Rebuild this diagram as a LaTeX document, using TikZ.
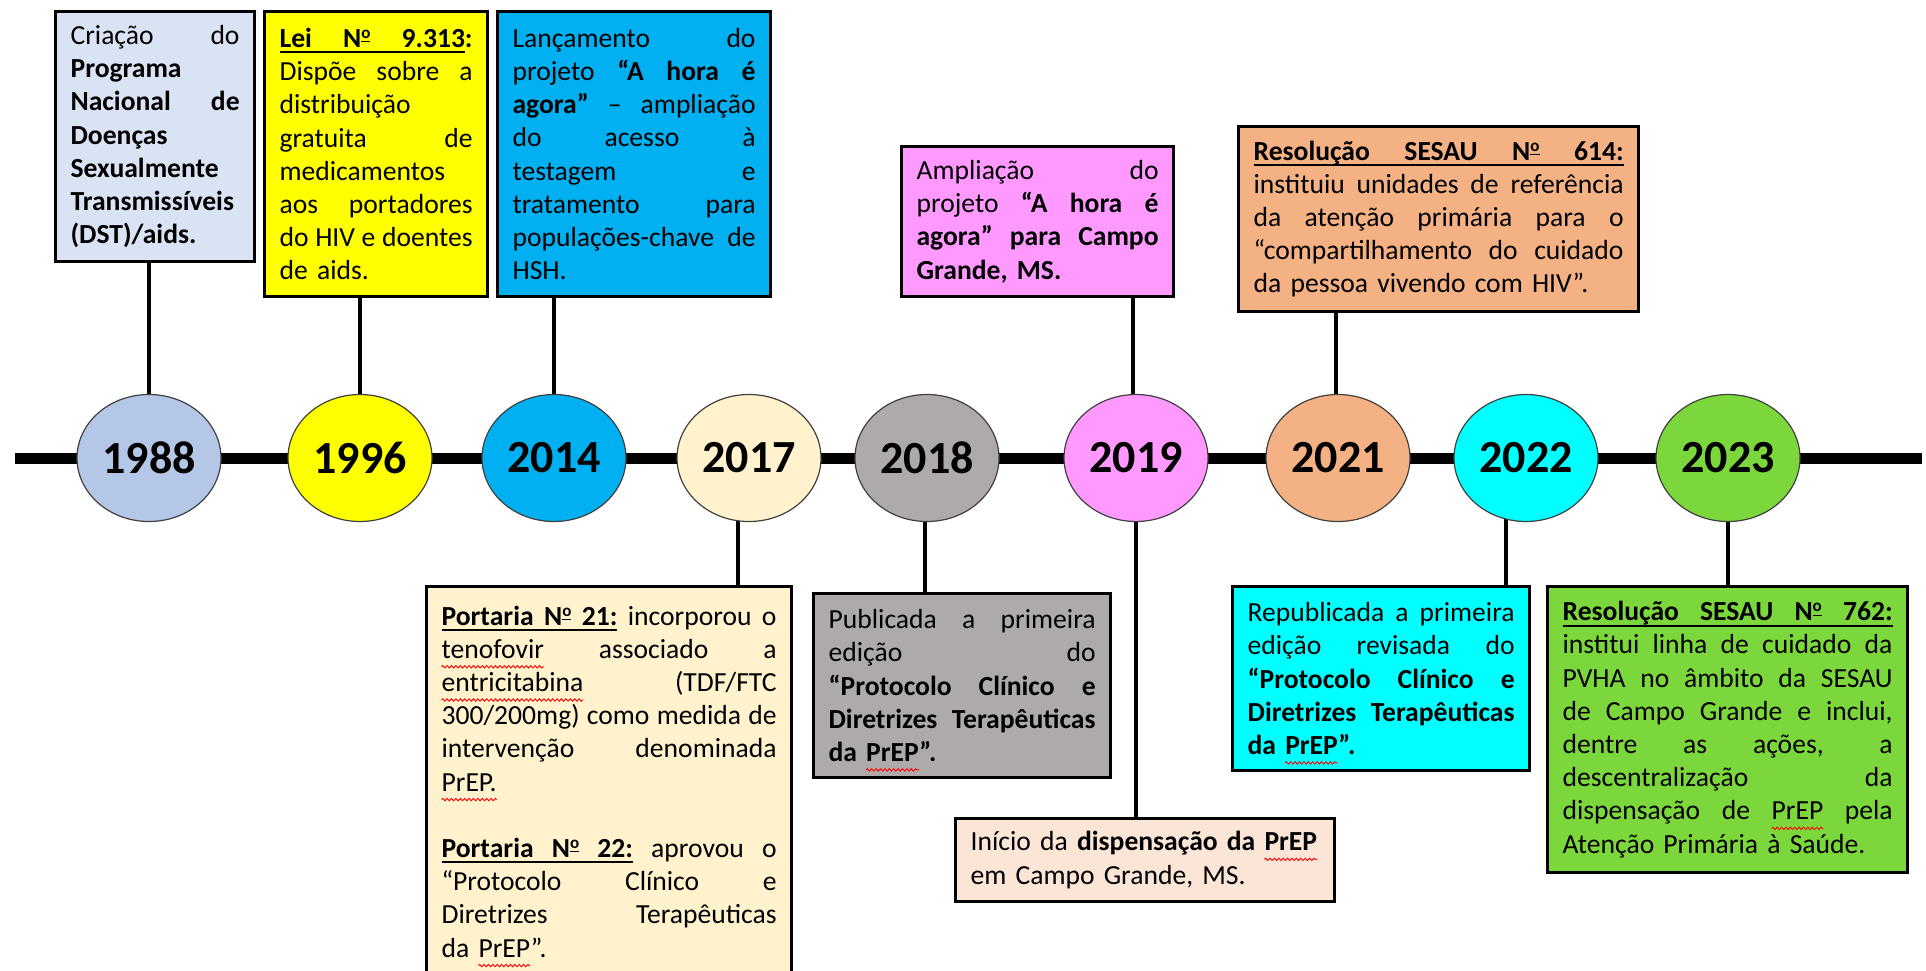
\documentclass[tikz,border=0pt]{standalone}
\usepackage{fontspec}
\setmainfont{Carlito}
\usetikzlibrary{shapes.geometric,backgrounds,decorations.pathmorphing}
\definecolor{cAe}{HTML}{B4C7E7}
\definecolor{cAb}{HTML}{DAE3F3}
\definecolor{cYel}{HTML}{FFFF00}
\definecolor{cBlu}{HTML}{00B0F0}
\definecolor{cCre}{HTML}{FFF2CC}
\definecolor{cGra}{HTML}{AEAAAA}
\definecolor{cPnk}{HTML}{FF99FF}
\definecolor{cPea}{HTML}{FBE5D6}
\definecolor{cOra}{HTML}{F4B183}
\definecolor{cCya}{HTML}{00FFFF}
\definecolor{cGrn}{HTML}{7CD73C}
\newsavebox\uwbox
\newlength\sqw
% justified line: every interword space stretches equally
\newcommand\jline[1]{\hbox to \linewidth{\spaceskip=0.23em plus 1fil\relax\xspaceskip=0.23em plus 1fil\relax #1}\par}
\newcommand\lline[1]{\makebox[\linewidth][l]{#1}\par}
% underlined word
\newcommand\uw[1]{\sbox\uwbox{#1}\rlap{\raisebox{-2.9pt}{\rule{\wd\uwbox}{1pt}}}\usebox\uwbox}
% underlined stretchable space and plain stretchable space
\newcommand\usp{\leaders\vrule height -1.9pt depth 2.9pt\hskip 0.23em plus 1fil\relax}
\newcommand\nsp{\hskip 0.23em plus 1fil\relax}
% numero sign: raised small o with bar
\newcommand\ordm{\raisebox{4.4pt}{\fontsize{8.5}{8.5}\selectfont\underline{o}}}
% red spell-check squiggle
\newcommand\sq[1]{\settowidth\sqw{#1}\rlap{\tikz[overlay,x=1pt,y=1pt,baseline=0pt]\draw[red,line width=0.45pt,decorate,decoration={zigzag,segment length=2.2pt,amplitude=0.6pt}] (0,-4.2) -- (\sqw,-4.2);}#1}
\begin{document}
\begin{tikzpicture}[x=0.5pt,y=-0.5pt,
  yr/.style={ellipse, draw=black!75, line width=0.6pt, minimum width=72pt, minimum height=63.5pt, inner sep=0pt, font=\fontsize{23}{26}\selectfont\bfseries},
  ev/.style={draw=black, line width=1.6pt, anchor=north west, inner xsep=7.5pt, inner ysep=0pt, font=\fontsize{13.8}{16.6}\selectfont},
  conn/.style={line width=2.2pt},
  tline/.style={line width=5.5pt}]
\useasboundingbox (0,0) rectangle (1926,970);
\coordinate (tl) at (15,458);
\coordinate (tr) at (1922,458);

% years
\node[yr, fill=cAe] (e1988) at (149,458) {1988};
\node[yr, fill=cYel] (e1996) at (360,458) {1996};
\node[yr, fill=cBlu] (e2014) at (554,458) {2014};
\node[yr, fill=cCre] (e2017) at (749,458) {2017};
\node[yr, fill=cGra] (e2018) at (927,458) {2018};
\node[yr, fill=cPnk] (e2019) at (1136,458) {2019};
\node[yr, fill=cOra] (e2021) at (1338,458) {2021};
\node[yr, fill=cCya] (e2022) at (1526,458) {2022};
\node[yr, fill=cGrn] (e2023) at (1728,458) {2023};

% top boxes
\node[ev, fill=cAb, text width=84.5pt, minimum height=125pt] (b1988) at (54,10) {%
\jline{Criação do}
\lline{\textbf{Programa}}
\jline{\textbf{Nacional de}}
\lline{\textbf{Doenças}}
\lline{\textbf{Sexualmente}}
\lline{\textbf{Transmissíveis}}
\lline{\textbf{(DST)/aids.}}};

\node[ev, fill=cYel, text width=96.5pt, minimum height=142.5pt] (b1996) at (263,10) {%
\jline{\textbf{\uw{Lei}\usp\uw{N\ordm}\usp\uw{9.313}:}}
\jline{Dispõe sobre a}
\lline{distribuição}
\jline{gratuita de}
\lline{medicamentos}
\jline{aos portadores}
\jline{do HIV e doentes}
\lline{de aids.}};

\node[ev, fill=cBlu, text width=121.5pt, minimum height=142.5pt] (b2014) at (496,10) {%
\jline{Lançamento do}
\jline{projeto \textbf{“A hora é}}
\jline{\textbf{agora”} – ampliação}
\jline{do acesso à}
\jline{testagem e}
\jline{tratamento para}
\jline{populações-chave de}
\lline{HSH.}};

\node[ev, fill=cPnk, text width=121pt, minimum height=75pt] (b2019t) at (900,145) {%
\jline{Ampliação do}
\jline{projeto \textbf{“A hora é}}
\jline{\textbf{agora” para Campo}}
\lline{\textbf{Grande, MS.}}};

\node[ev, fill=cOra, text width=185pt, minimum height=92.5pt] (b2021) at (1237,125) {%
\jline{\textbf{\uw{Resolução}\usp\uw{SESAU}\usp\uw{N\ordm}\usp\uw{614:}}}
\jline{instituiu unidades de referência}
\jline{da atenção primária para o}
\jline{“compartilhamento do cuidado}
\lline{da pessoa vivendo com HIV”.}};

% bottom boxes
\node[ev, fill=cCre, text width=167.5pt, minimum height=195pt] (b2017) at (425,585) {%
\jline{\textbf{\uw{Portaria}\usp\uw{N\ordm}\usp\uw{21:}\usp}incorporou\nsp o}
\jline{\sq{tenofovir} associado a}
\jline{\sq{entricitabina} (TDF/FTC}
\jline{300/200mg) como medida de}
\jline{intervenção denominada}
\lline{\sq{PrEP.}}
\lline{\mbox{}}
\jline{\textbf{\uw{Portaria}\usp\uw{N\ordm}\usp\uw{22:}\usp}aprovou\nsp o}
\jline{“Protocolo Clínico e}
\jline{Diretrizes Terapêuticas}
\lline{da \sq{PrEP}”.}};

\node[ev, fill=cGra, text width=133.5pt, minimum height=92pt] (b2018) at (812,592) {%
\jline{Publicada a primeira}
\jline{edição do}
\jline{\textbf{“Protocolo Clínico e}}
\jline{\textbf{Diretrizes Terapêuticas}}
\lline{\textbf{da \sq{PrEP}”.}}};

\node[ev, fill=cPea, text width=174.5pt, minimum height=41.5pt] (b2019b) at (954,817) {%
\lline{Início da \textbf{dispensação da \sq{PrEP}}}
\lline{em Campo Grande, MS.}};

\node[ev, fill=cCya, text width=133.5pt, minimum height=92pt] (b2022) at (1231,585) {%
\jline{Republicada a primeira}
\jline{edição revisada do}
\jline{\textbf{“Protocolo Clínico e}}
\jline{\textbf{Diretrizes Terapêuticas}}
\lline{\textbf{da \sq{PrEP}”.}}};

\node[ev, fill=cGrn, text width=165pt, minimum height=143pt] (b2023) at (1546,585) {%
\jline{\textbf{\uw{Resolução}\usp\uw{SESAU}\usp\uw{N\ordm}\usp\uw{762:}}}
\jline{institui linha de cuidado da}
\jline{PVHA no âmbito da SESAU}
\jline{de Campo Grande e inclui,}
\jline{dentre as ações, a}
\jline{descentralização da}
\jline{dispensação de \sq{PrEP} pela}
\lline{Atenção Primária à Saúde.}};

\begin{pgfonlayer}{background}
\draw[tline] (tl) -- (tr);
\draw[conn] (e1988.center) -- (e1988.center |- b1988.south);
\draw[conn] (e1996.center) -- (e1996.center |- b1996.south);
\draw[conn] (e2014.center) -- (e2014.center |- b2014.south);
\draw[conn] ([xshift=-1.5pt]e2019.center) -- ([xshift=-1.5pt]e2019.center |- b2019t.south);
\draw[conn] ([xshift=-1pt]e2021.center) -- ([xshift=-1pt]e2021.center |- b2021.south);
\draw[conn] ([xshift=-5.5pt]e2017.center) -- ([xshift=-5.5pt]e2017.center |- b2017.north);
\draw[conn] ([xshift=-1pt]e2018.center) -- ([xshift=-1pt]e2018.center |- b2018.north);
\draw[conn] (e2019.center) -- (e2019.center |- b2019b.north);
\draw[conn] ([xshift=-10pt]e2022.center) -- ([xshift=-10pt]e2022.center |- b2022.north);
\draw[conn] (e2023.center) -- (e2023.center |- b2023.north);
\end{pgfonlayer}
\end{tikzpicture}
\end{document}
